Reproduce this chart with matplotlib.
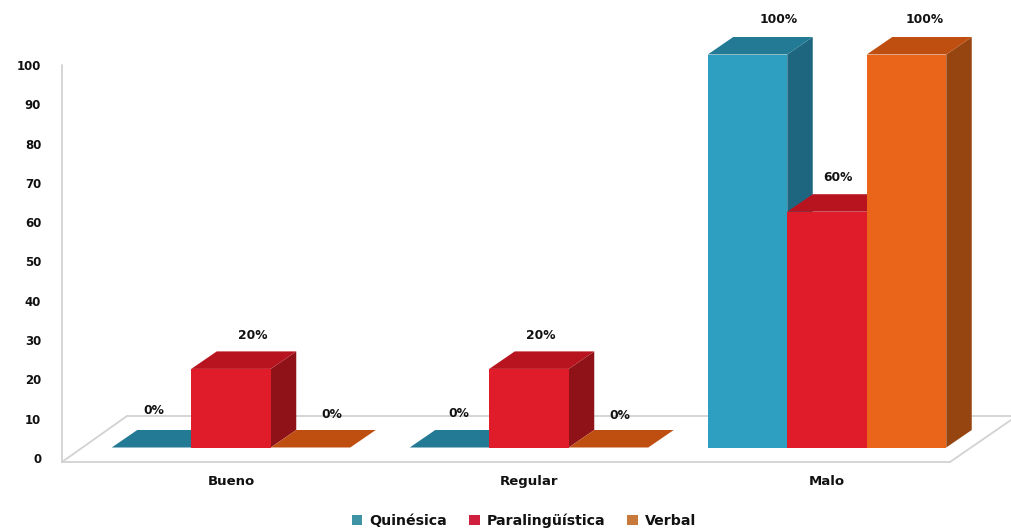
import matplotlib
matplotlib.use("Agg")
import matplotlib.pyplot as plt
from matplotlib.patches import Polygon, Patch

categories = ["Bueno", "Regular", "Malo"]
series_names = ["Quinésica", "Paralingüística", "Verbal"]
quinesica = [0, 0, 100]
paralinguistica = [20, 20, 60]
verbal = [0, 0, 100]
y_ticks = list(range(0, 101, 10))

W, H = 1011, 532
X0, X1 = 62, 1011
Y0, Y100 = 458, 65
GROUP0, STEP = 231, 298
px_per_unit = (Y0 - Y100) / 100

front_colors = ["#2E9FC0", "#E01B2A", "#EA651A"]
side_colors = ["#1E6580", "#8F1218", "#964510"]
top_colors = ["#237A95", "#B81420", "#BF4F10"]
legend_colors = ["#3E94A5", "#D0203F", "#C87A3A"]

bar_w = 79.5 / STEP
depth_x = 25.5 / STEP
depth_y = 17.5 / px_per_unit
base = (Y0 - 447.5) / px_per_unit

label_dx = [[2, 9, 31], [22, 12, 11], [21, 11, 18]]
label_dy = [[37, 34, 35], [33, 33, 34], [33, 32, 35]]

fig = plt.figure(figsize=(W / 100, H / 100), dpi=100, facecolor="white")
ax = fig.add_axes([X0 / W, 1 - Y0 / H, (X1 - X0) / W, (Y0 - Y100) / H])
ax.set_xlim((X0 - GROUP0) / STEP, (X1 - GROUP0) / STEP)
ax.set_ylim(0, 100)
for s in ax.spines.values():
    s.set_visible(False)

def px_x(p):
    return (p - GROUP0) / STEP

def px_y(p):
    return (Y0 - p) / px_per_unit

wall = "#D2D2D2"
wall_lines = [
    ([62, 62], [65, 462]),
    ([62, 950], [462, 462]),
    ([62, 127], [462, 416]),
    ([127, 1011], [416, 416]),
    ([950, 1011], [462, 420]),
]
for xs, ys in wall_lines:
    ax.plot([px_x(p) for p in xs], [px_y(p) for p in ys], color=wall, lw=1.3,
            clip_on=False, zorder=1, solid_capstyle="round")

z = 2
for g in range(len(categories)):
    for i, vals in enumerate([quinesica, paralinguistica, verbal]):
        v = vals[g]
        left = g + (i - 1.5) * bar_w
        right = left + bar_w
        top = base + v
        if v > 0:
            ax.add_patch(Polygon(
                [(right, base), (right + depth_x, base + depth_y),
                 (right + depth_x, top + depth_y), (right, top)],
                closed=True, fc=side_colors[i], ec="none", zorder=z, clip_on=False))
        ax.add_patch(Polygon(
            [(left, top), (right, top), (right + depth_x, top + depth_y),
             (left + depth_x, top + depth_y)],
            closed=True, fc=top_colors[i], ec="none", zorder=z, clip_on=False))
        if v > 0:
            ax.bar(left, v, width=bar_w, bottom=base, align="edge", linewidth=0,
                   color=front_colors[i], zorder=z + 0.5, clip_on=False)
        ax.annotate(f"{v}%", (left + bar_w / 2, top),
                    xytext=(label_dx[i][g] * 0.72, label_dy[i][g] * 0.72),
                    textcoords="offset points", ha="center", va="center",
                    fontsize=8.8, fontweight="bold", color="#111111", zorder=10,
                    annotation_clip=False)
        z += 1

ax.set_yticks(y_ticks)
ax.set_xticks(range(len(categories)))
ax.set_xticklabels(categories, fontweight="bold")
ax.set_yticklabels([str(t) for t in y_ticks], fontweight="bold")
ax.tick_params(axis="y", length=0, pad=15, labelsize=8.5, labelcolor="#111111")
ax.tick_params(axis="x", length=0, pad=12, labelsize=9.5, labelcolor="#111111")

handles = [Patch(fc=c, ec="none", label=n) for c, n in zip(legend_colors, series_names)]
fig.legend(handles=handles, loc="center", bbox_to_anchor=(524 / W, 1 - 521 / H),
           ncol=3, frameon=False, handlelength=0.75, handleheight=0.75,
           handletextpad=0.5, columnspacing=1.55, labelcolor="#111111",
           borderpad=0, borderaxespad=0,
           prop={"size": 10.2, "weight": "bold"})

fig.savefig("out.png", dpi=100, facecolor="white")
